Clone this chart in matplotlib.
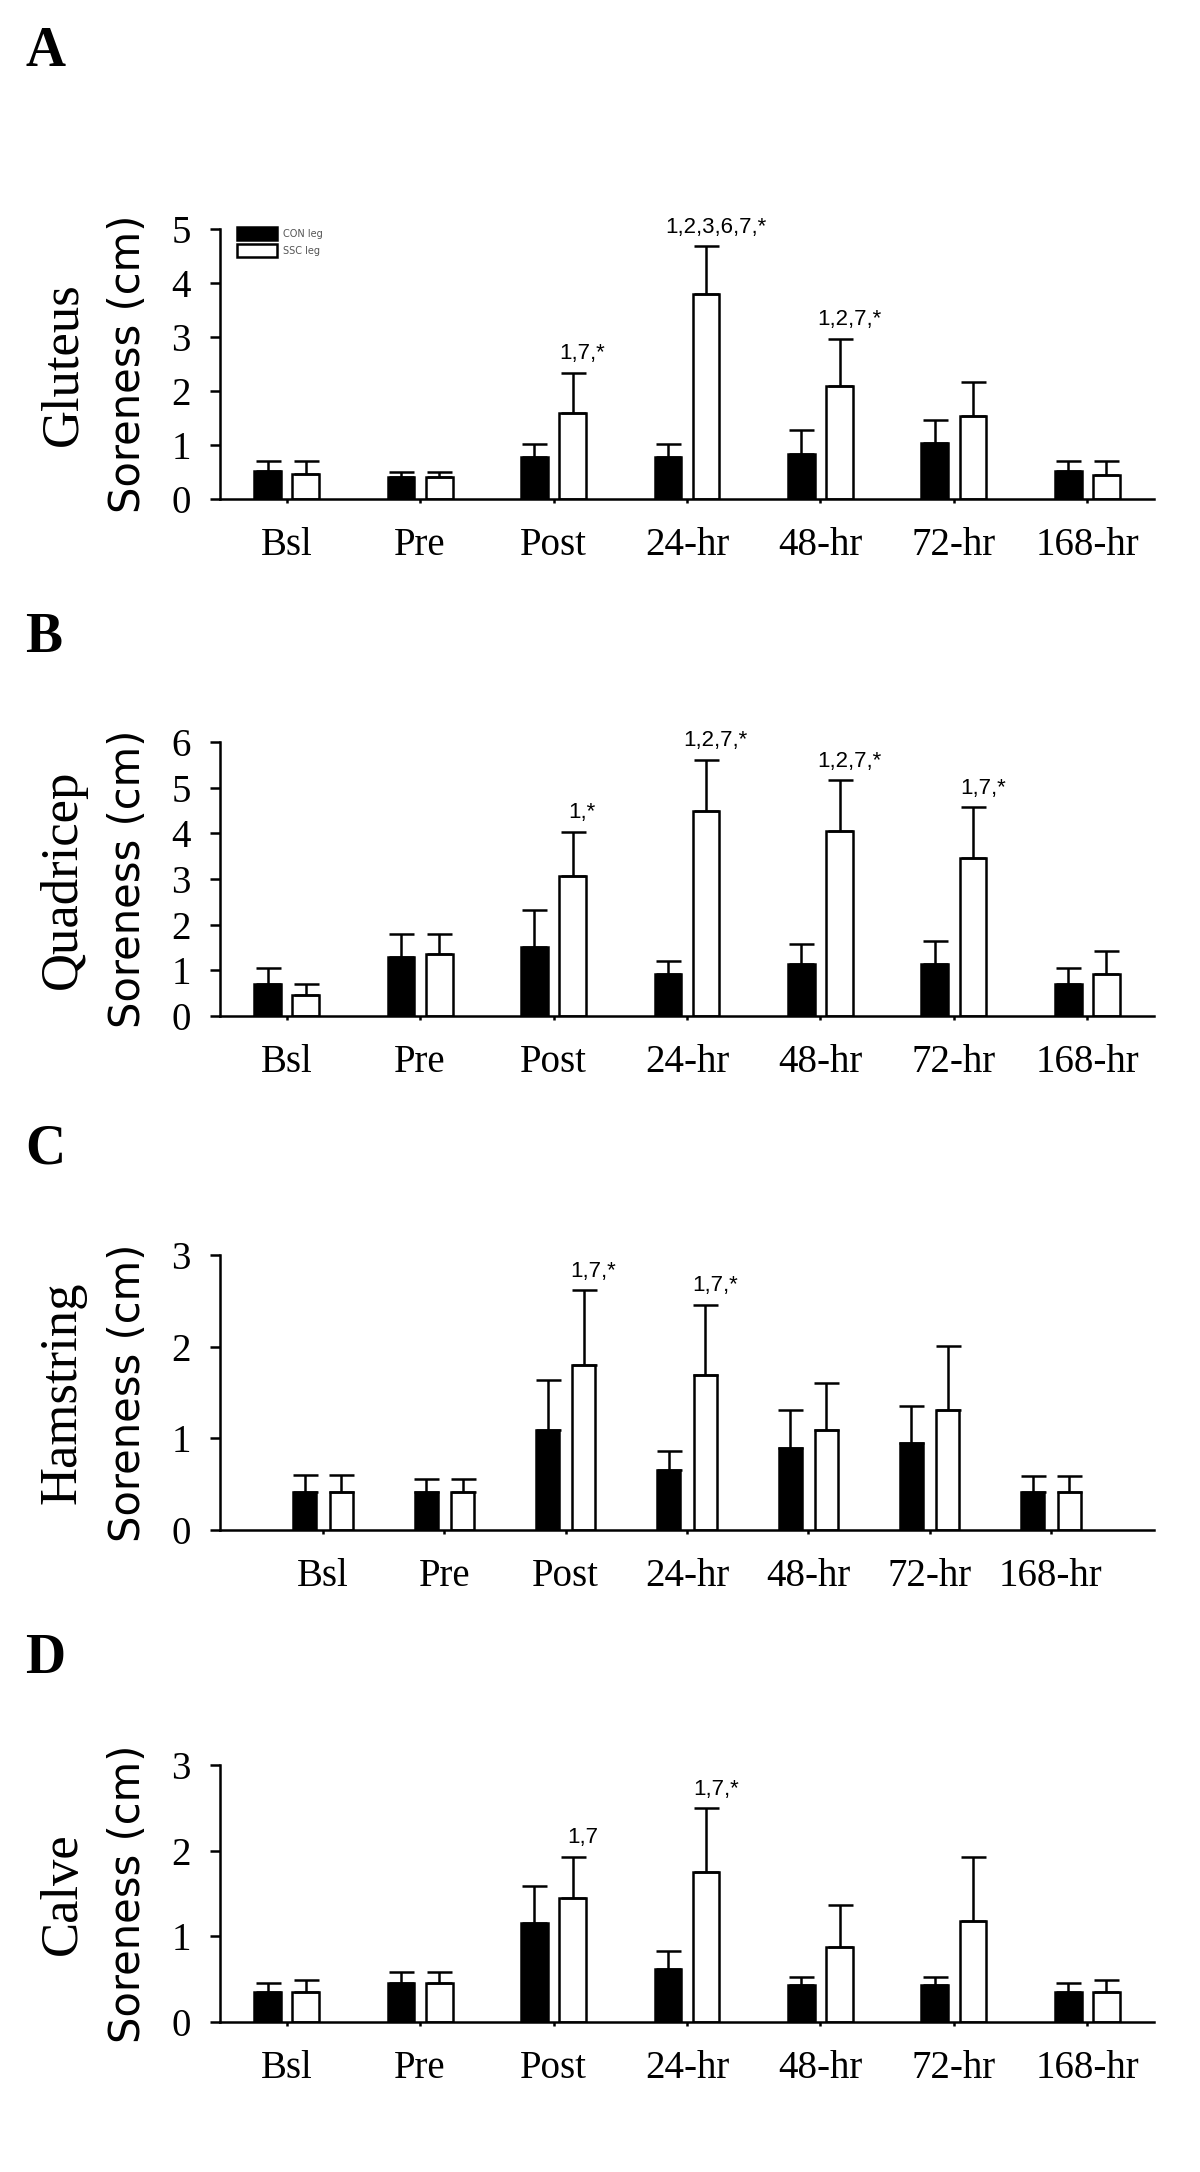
#!/usr/bin/env python3

import matplotlib
matplotlib.use("Agg")
import matplotlib.pyplot as plt
import matplotlib.transforms as mtransforms
from matplotlib.patches import Patch
import numpy as np

# time points
times = ['Bsl', 'Pre', 'Post', '24-hr', '48-hr', '72-hr', '168-hr']

# gluteus (cm)
glut_con = [0.52, 0.41, 0.78, 0.78, 0.83, 1.03, 0.52]
glut_con_sd = [0.18, 0.09, 0.24, 0.24, 0.44, 0.43, 0.18]
glut_ssc = [0.46, 0.41, 1.59, 3.79, 2.09, 1.53, 0.45]
glut_ssc_sd = [0.24, 0.09, 0.75, 0.89, 0.88, 0.63, 0.25]
glut_marks = ['', '', '1,7,*', '1,2,3,6,7,*', '1,2,7,*', '', '']

# quadricep (cm)
quad_con = [0.70, 1.29, 1.52, 0.91, 1.14, 1.14, 0.70]
quad_con_sd = [0.36, 0.50, 0.80, 0.29, 0.43, 0.51, 0.36]
quad_ssc = [0.47, 1.36, 3.07, 4.50, 4.05, 3.45, 0.91]
quad_ssc_sd = [0.22, 0.43, 0.97, 1.11, 1.11, 1.12, 0.52]
quad_marks = ['', '', '1,*', '1,2,7,*', '1,2,7,*', '1,7,*', '']

# hamstring (cm)
ham_con = [0.42, 0.42, 1.09, 0.65, 0.90, 0.95, 0.42]
ham_con_sd = [0.18, 0.14, 0.55, 0.21, 0.41, 0.40, 0.17]
ham_ssc = [0.42, 0.42, 1.80, 1.69, 1.09, 1.31, 0.41]
ham_ssc_sd = [0.18, 0.14, 0.82, 0.77, 0.51, 0.70, 0.18]
ham_marks = ['', '', '1,7,*', '1,7,*', '', '', '']

# calve (cm)
calf_con = [0.35, 0.46, 1.15, 0.62, 0.43, 0.43, 0.35]
calf_con_sd = [0.11, 0.12, 0.44, 0.21, 0.10, 0.10, 0.10]
calf_ssc = [0.35, 0.46, 1.45, 1.75, 0.88, 1.18, 0.35]
calf_ssc_sd = [0.14, 0.12, 0.48, 0.75, 0.49, 0.75, 0.14]
calf_marks = ['', '', '1,7', '1,7,*', '', '', '']

SERIF = 'Liberation Serif'
SANS = 'Liberation Sans'
W, H = 1200, 2172

fig = plt.figure(figsize=(W / 100, H / 100), dpi=100)

# (letter, muscle, con, con_sd, ssc, ssc_sd, marks, ymax, top_px, base_px, xpad, width, offset, letter_top)
panels = [
    ('A', 'Gluteus', glut_con, glut_con_sd, glut_ssc, glut_ssc_sd, glut_marks, 5, 229, 499, 0.5, 0.2, 0.143, 26),
    ('B', 'Quadricep', quad_con, quad_con_sd, quad_ssc, quad_ssc_sd, quad_marks, 6, 742, 1016, 0.5, 0.2, 0.143, 612),
    ('C', 'Hamstring', ham_con, ham_con_sd, ham_ssc, ham_ssc_sd, ham_marks, 3, 1255, 1530, 0.85, 0.19, 0.15, 1124),
    ('D', 'Calve', calf_con, calf_con_sd, calf_ssc, calf_ssc_sd, calf_marks, 3, 1765, 2022, 0.5, 0.2, 0.143, 1633),
]

x_left, x_right = 220, 1154
lw = 1.8

for letter, muscle, con, con_sd, ssc, ssc_sd, marks, ymax, top, base, xpad, bw, off, ltop in panels:
    ax = fig.add_axes([x_left / W, 1 - base / H, (x_right - x_left) / W, (base - top) / H])
    x = np.arange(len(times))

    ekw = dict(ecolor='black', elinewidth=lw, capsize=9, capthick=lw)
    ax.bar(x - off, con, bw, color='black', edgecolor='black', linewidth=lw,
           yerr=[np.zeros(len(con)), con_sd], error_kw=ekw, label='CON leg')
    ax.bar(x + off, ssc, bw, color='white', edgecolor='black', linewidth=lw,
           yerr=[np.zeros(len(ssc)), ssc_sd], error_kw=ekw, label='SSC leg')

    for i, m in enumerate(marks):
        if m:
            ax.annotate(m, (x[i] + off, ssc[i] + ssc_sd[i]), xytext=(7, 6),
                        textcoords='offset points', ha='center', va='bottom',
                        fontsize=16, family=SANS)

    ax.set_xlim(-xpad, len(times) - 1 + xpad)
    ax.set_ylim(0, ymax)
    ax.set_yticks(range(ymax + 1))
    ax.set_xticks(x)
    ax.set_xticklabels(times, fontsize=28, family=SERIF)
    for t in ax.get_yticklabels():
        t.set_fontsize(28)
        t.set_family(SERIF)
    ax.spines['top'].set_visible(False)
    ax.spines['right'].set_visible(False)
    ax.spines['left'].set_linewidth(lw)
    ax.spines['bottom'].set_linewidth(lw)
    ax.tick_params(axis='y', direction='out', length=7, width=lw, pad=14)
    ax.tick_params(axis='x', direction='out', length=3, width=lw, pad=17)

    # two-line y label: muscle name in serif, units in sans
    tr = mtransforms.blended_transform_factory(fig.transFigure, ax.transAxes)
    ax.text(63 / W, 0.5, muscle, transform=tr, rotation=90, ha='center', va='center',
            fontsize=38, family=SERIF)
    ax.text(128 / W, 0.5, 'Soreness (cm)', transform=tr, rotation=90, ha='center', va='center',
            fontsize=30, family='DejaVu Sans')

    fig.text(25 / W, 1 - ltop / H, letter, ha='left', va='top', fontsize=40,
             family=SERIF, fontweight='bold')

    if letter == 'A':
        handles = [Patch(facecolor='black', edgecolor='black', linewidth=lw),
                   Patch(facecolor='white', edgecolor='black', linewidth=lw)]
        ax.legend(handles, ['CON leg', 'SSC leg'], loc='upper left',
                  bbox_to_anchor=(0.018, 1.007), frameon=False, fontsize=7,
                  handlelength=4.1, handleheight=1.6, labelspacing=0.5,
                  handletextpad=0.7, borderpad=0, borderaxespad=0,
                  labelcolor='#555555')

plt.savefig('out.png', dpi=100)
